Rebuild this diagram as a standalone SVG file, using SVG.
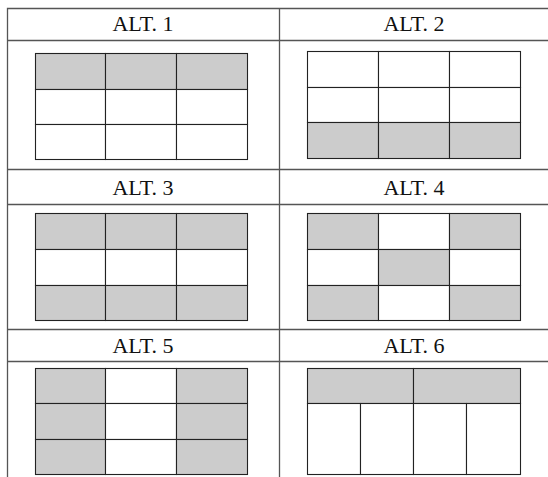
<svg xmlns="http://www.w3.org/2000/svg" width="548" height="477" viewBox="0 0 548 477">
<style>
.frame{stroke:#555;stroke-width:1.3;fill:none}
.c{stroke:#222;stroke-width:1.1}
.g{fill:#cccccc}
.w{fill:#ffffff}
.t{font-family:"Liberation Serif","Times New Roman",serif;font-size:22px;fill:#111;text-anchor:middle}
</style>
<rect width="548" height="477" fill="#fff"/>
<g id="table">
<path class="frame" d="M7.5,477V8.5H548M279.5,8.5V477M7.5,40.5H548M7.5,169.5H548M7.5,204.5H548M7.5,329.5H548M7.5,361.5H548"/>
</g>
<g id="alt1">
<text class="t" x="143" y="31">ALT. 1</text>
<rect class="c g" x="35.5" y="53.5" width="70" height="36"/>
<rect class="c g" x="105.5" y="53.5" width="71" height="36"/>
<rect class="c g" x="176.5" y="53.5" width="71" height="36"/>
<rect class="c w" x="35.5" y="89.5" width="70" height="35"/>
<rect class="c w" x="105.5" y="89.5" width="71" height="35"/>
<rect class="c w" x="176.5" y="89.5" width="71" height="35"/>
<rect class="c w" x="35.5" y="124.5" width="70" height="35"/>
<rect class="c w" x="105.5" y="124.5" width="71" height="35"/>
<rect class="c w" x="176.5" y="124.5" width="71" height="35"/>
</g>
<g id="alt2">
<text class="t" x="414" y="31">ALT. 2</text>
<rect class="c w" x="307.5" y="51.5" width="71" height="36"/>
<rect class="c w" x="378.5" y="51.5" width="71" height="36"/>
<rect class="c w" x="449.5" y="51.5" width="71" height="36"/>
<rect class="c w" x="307.5" y="87.5" width="71" height="35"/>
<rect class="c w" x="378.5" y="87.5" width="71" height="35"/>
<rect class="c w" x="449.5" y="87.5" width="71" height="35"/>
<rect class="c g" x="307.5" y="122.5" width="71" height="36"/>
<rect class="c g" x="378.5" y="122.5" width="71" height="36"/>
<rect class="c g" x="449.5" y="122.5" width="71" height="36"/>
</g>
<g id="alt3">
<text class="t" x="143" y="195">ALT. 3</text>
<rect class="c g" x="35.5" y="213.5" width="70" height="36"/>
<rect class="c g" x="105.5" y="213.5" width="71" height="36"/>
<rect class="c g" x="176.5" y="213.5" width="71" height="36"/>
<rect class="c w" x="35.5" y="249.5" width="70" height="36"/>
<rect class="c w" x="105.5" y="249.5" width="71" height="36"/>
<rect class="c w" x="176.5" y="249.5" width="71" height="36"/>
<rect class="c g" x="35.5" y="285.5" width="70" height="35"/>
<rect class="c g" x="105.5" y="285.5" width="71" height="35"/>
<rect class="c g" x="176.5" y="285.5" width="71" height="35"/>
</g>
<g id="alt4">
<text class="t" x="414" y="195">ALT. 4</text>
<rect class="c g" x="307.5" y="213.5" width="71" height="36"/>
<rect class="c w" x="378.5" y="213.5" width="71" height="36"/>
<rect class="c g" x="449.5" y="213.5" width="71" height="36"/>
<rect class="c w" x="307.5" y="249.5" width="71" height="36"/>
<rect class="c g" x="378.5" y="249.5" width="71" height="36"/>
<rect class="c w" x="449.5" y="249.5" width="71" height="36"/>
<rect class="c g" x="307.5" y="285.5" width="71" height="35"/>
<rect class="c w" x="378.5" y="285.5" width="71" height="35"/>
<rect class="c g" x="449.5" y="285.5" width="71" height="35"/>
</g>
<g id="alt5">
<text class="t" x="143" y="353">ALT. 5</text>
<rect class="c g" x="35.5" y="368.5" width="70" height="35"/>
<rect class="c w" x="105.5" y="368.5" width="71" height="35"/>
<rect class="c g" x="176.5" y="368.5" width="71" height="35"/>
<rect class="c g" x="35.5" y="403.5" width="70" height="36"/>
<rect class="c w" x="105.5" y="403.5" width="71" height="36"/>
<rect class="c g" x="176.5" y="403.5" width="71" height="36"/>
<rect class="c g" x="35.5" y="439.5" width="70" height="35"/>
<rect class="c w" x="105.5" y="439.5" width="71" height="35"/>
<rect class="c g" x="176.5" y="439.5" width="71" height="35"/>
</g>
<g id="alt6">
<text class="t" x="414" y="353">ALT. 6</text>
<rect class="c g" x="307.5" y="368.5" width="106" height="35"/>
<rect class="c g" x="413.5" y="368.5" width="107" height="35"/>
<rect class="c w" x="307.5" y="403.5" width="53" height="71"/>
<rect class="c w" x="360.5" y="403.5" width="53" height="71"/>
<rect class="c w" x="413.5" y="403.5" width="53" height="71"/>
<rect class="c w" x="466.5" y="403.5" width="54" height="71"/>
</g>
</svg>
